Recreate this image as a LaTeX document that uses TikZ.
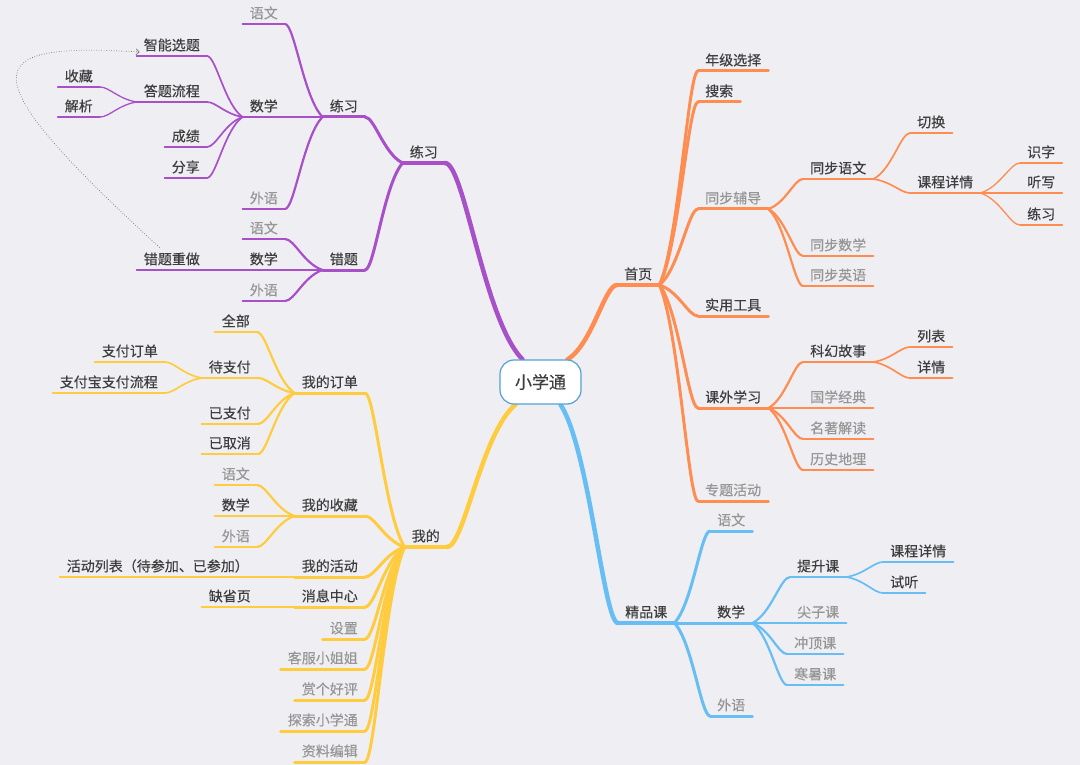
\documentclass[tikz,border=0pt]{standalone}
\usepackage{fontspec}
\newfontfamily\cjk[FakeBold=0.35]{Noto Sans CJK SC}
\usetikzlibrary{calc, arrows.meta}
\definecolor{bgc}{RGB}{239,239,243}
\definecolor{txt}{RGB}{62,62,62}
\definecolor{dimtxt}{RGB}{150,150,150}
\definecolor{pu}{RGB}{168,80,200}
\definecolor{og}{RGB}{255,140,80}
\definecolor{ye}{RGB}{255,204,64}
\definecolor{bl}{RGB}{102,190,245}
\definecolor{rootc}{RGB}{84,160,214}
\colorlet{brc}{pu}
\pgfdeclarelayer{back}
\pgfsetlayers{back,main}

\tikzset{
  lbl/.style={inner xsep=7pt, inner ysep=5.5pt, text height=11pt, text depth=0pt, font=\cjk\fontsize{14}{16}\selectfont, text=txt},
  dim/.style={text=dimtxt},
  ul/.style={append after command={(\tikzlastnode.south west) edge[draw=brc, line width=#1, line cap=round] (\tikzlastnode.south east)}},
  n1/.style={lbl, ul=4.5pt},
  n2/.style={lbl, ul=3pt},
  n3/.style={lbl, ul=2.2pt},
  n4/.style={lbl, ul=1.7pt},
  n5/.style={lbl, ul=1.3pt},
  w1/.style={draw=brc, line width=4.5pt, line cap=round},
  w2/.style={draw=brc, line width=3pt, line cap=round},
  w3/.style={draw=brc, line width=2.2pt, line cap=round},
  w4/.style={draw=brc, line width=1.7pt, line cap=round},
  w5/.style={draw=brc, line width=1.3pt, line cap=round},
  cv/.style={to path={let \p1=(\tikztostart), \p2=(\tikztotarget) in
    .. controls ({\x1+0.5*((\x2)-(\x1))},{\y1+0.2*((\y2)-(\y1))}) and ({\x2-0.25*((\x2)-(\x1))},\y2) .. (\tikztotarget)}},
  root/.style={draw=rootc, fill=white, line width=1.2pt, rounded corners=14pt, minimum width=81pt, minimum height=44pt, inner sep=0pt, font=\cjk\fontsize{17}{20}\selectfont, text=txt},
  jump/.style={draw=black!55, line width=0.7pt, dash pattern=on 0.7pt off 1.8pt, -{Straight Barb[length=3pt, width=6pt]}}
}

\begin{document}
\begin{tikzpicture}[x=1pt, y=-1pt]
  \useasboundingbox (0,0) rectangle (1080,765);
  \begin{pgfonlayer}{back}
    \fill[bgc] (0,0) rectangle (1080,765);
  \end{pgfonlayer}

  \node[root] (root) at (540.5,382) {小学通};

  % 练习
  \begin{scope}
    \colorlet{brc}{pu}
    \node[n1, anchor=south east] (lx1) at (445,163) {练习};
    \node[n2, anchor=south east] (lx2) at (365,117) {练习};
    \node[n2, anchor=south east] (ct) at (365,270) {错题};
    \node[n3, dim, anchor=south east] (yw1) at (285,24) {语文};
    \node[n3, anchor=south east] (sx1) at (285,117) {数学};
    \node[n3, dim, anchor=south east] (wy1) at (285,209) {外语};
    \node[n4, anchor=south east] (zn) at (207,56) {智能选题};
    \node[n4, anchor=south east] (dt) at (207,102) {答题流程};
    \node[n4, anchor=south east] (cj) at (207,147) {成绩};
    \node[n4, anchor=south east] (fx) at (207,178) {分享};
    \node[n5, anchor=south east] (sc) at (100,87) {收藏};
    \node[n5, anchor=south east] (jx) at (100,117) {解析};
    \node[n3, dim, anchor=south east] (yw2) at (285,239) {语文};
    \node[n3, anchor=south east] (sx2) at (285,270) {数学};
    \node[n3, dim, anchor=south east] (wy2) at (285,301) {外语};
    \node[n4, anchor=south east] (cz) at (207,270) {错题重做};

    \begin{pgfonlayer}{back}
      \draw[w1] ([xshift=-18pt]root.north) to[cv] (lx1.south east);
    \end{pgfonlayer}
    \draw[w2] (lx1.south west) to[cv] (lx2.south east);
    \draw[w2] (lx1.south west) to[cv] (ct.south east);
    \draw[w3] (lx2.south west) to[cv] (yw1.south east);
    \draw[w3] (lx2.south west) to[cv] (sx1.south east);
    \draw[w3] (lx2.south west) to[cv] (wy1.south east);
    \draw[w4] (sx1.south west) to[cv] (zn.south east);
    \draw[w4] (sx1.south west) to[cv] (dt.south east);
    \draw[w4] (sx1.south west) to[cv] (cj.south east);
    \draw[w4] (sx1.south west) to[cv] (fx.south east);
    \draw[w5] (dt.south west) to[cv] (sc.south east);
    \draw[w5] (dt.south west) to[cv] (jx.south east);
    \draw[w3] (ct.south west) to[cv] (yw2.south east);
    \draw[w3] (ct.south west) to[cv] (sx2.south east);
    \draw[w3] (ct.south west) to[cv] (wy2.south east);
    \draw[w4] (sx2.south west) to[cv] (cz.south east);

    \draw[jump] ([xshift=23pt]cz.north west) .. controls (-34,70) and (-22,42) .. ([shift={(3pt,4pt)}]zn.south west);
  \end{scope}

  % 我的
  \begin{scope}
    \colorlet{brc}{ye}
    \node[n1, anchor=south east] (wd) at (447,547) {我的};
    \node[n2, anchor=south east] (dd) at (365,393) {我的订单};
    \node[n2, anchor=south east] (wsc) at (365,516) {我的收藏};
    \node[n2, anchor=south east] (hd) at (365,577) {我的活动};
    \node[n2, anchor=south east] (xx) at (365,607) {消息中心};
    \node[n2, dim, anchor=south east] (sz) at (365,639) {设置};
    \node[n2, dim, anchor=south east] (kf) at (365,669) {客服小姐姐};
    \node[n2, dim, anchor=south east] (sh) at (365,700) {赏个好评};
    \node[n2, dim, anchor=south east] (tsu) at (365,731) {探索小学通};
    \node[n2, dim, anchor=south east] (zl) at (365,762) {资料编辑};
    \node[n3, anchor=south east] (qb) at (257,332) {全部};
    \node[n3, anchor=south east] (dz) at (258,378) {待支付};
    \node[n3, anchor=south east] (yz) at (258,424) {已支付};
    \node[n3, anchor=south east] (yq) at (258,454) {已取消};
    \node[n4, anchor=south east] (zd) at (165,362) {支付订单};
    \node[n4, anchor=south east] (zf) at (165,393) {支付宝支付流程};
    \node[n3, dim, anchor=south east] (yw3) at (257,485) {语文};
    \node[n3, anchor=south east] (sx3) at (257,516) {数学};
    \node[n3, dim, anchor=south east] (wy3) at (257,547) {外语};
    \node[n3, anchor=south east] (hl) at (256,577) {活动列表（待参加、已参加）};
    \node[n3, anchor=south east] (qs) at (258,607) {缺省页};

    \begin{pgfonlayer}{back}
      \draw[w1] ([xshift=-25pt]root.south) to[cv] (wd.south east);
    \end{pgfonlayer}
    \draw[w2] (wd.south west) to[cv] (dd.south east);
    \draw[w2] (wd.south west) to[cv] (wsc.south east);
    \draw[w2] (wd.south west) to[cv] (hd.south east);
    \draw[w2] (wd.south west) to[cv] (xx.south east);
    \draw[w2] (wd.south west) to[cv] (sz.south east);
    \draw[w2] (wd.south west) to[cv] (kf.south east);
    \draw[w2] (wd.south west) to[cv] (sh.south east);
    \draw[w2] (wd.south west) to[cv] (tsu.south east);
    \draw[w2] (wd.south west) to[cv] (zl.south east);
    \draw[w3] (dd.south west) to[cv] (qb.south east);
    \draw[w3] (dd.south west) to[cv] (dz.south east);
    \draw[w3] (dd.south west) to[cv] (yz.south east);
    \draw[w3] (dd.south west) to[cv] (yq.south east);
    \draw[w4] (dz.south west) to[cv] (zd.south east);
    \draw[w4] (dz.south west) to[cv] (zf.south east);
    \draw[w3] (wsc.south west) to[cv] (yw3.south east);
    \draw[w3] (wsc.south west) to[cv] (sx3.south east);
    \draw[w3] (wsc.south west) to[cv] (wy3.south east);
    \draw[w3] (hd.south west) to[cv] (hl.south east);
    \draw[w3] (xx.south west) to[cv] (qs.south east);
  \end{scope}

  % 首页
  \begin{scope}
    \colorlet{brc}{og}
    \node[n1, anchor=south west] (sy) at (617,285) {首页};
    \node[n2, anchor=south west] (nj) at (698,71) {年级选择};
    \node[n2, anchor=south west] (ss) at (698,102) {搜索};
    \node[n2, dim, anchor=south west] (tb) at (698,209) {同步辅导};
    \node[n2, anchor=south west] (sg) at (698,316) {实用工具};
    \node[n2, anchor=south west] (kw) at (698,408) {课外学习};
    \node[n2, dim, anchor=south west] (zt) at (698,501) {专题活动};
    \node[n3, anchor=south west] (tyw) at (803,179) {同步语文};
    \node[n3, dim, anchor=south west] (tsx) at (803,256) {同步数学};
    \node[n3, dim, anchor=south west] (tyy) at (803,286) {同步英语};
    \node[n4, anchor=south west] (qh) at (910,133) {切换};
    \node[n4, anchor=south west] (kc) at (910,193) {课程详情};
    \node[n5, anchor=south west] (szi) at (1020,163) {识字};
    \node[n5, anchor=south west] (tx) at (1020,193) {听写};
    \node[n5, anchor=south west] (lx3) at (1020,225) {练习};
    \node[n3, anchor=south west] (kh) at (803,362) {科幻故事};
    \node[n3, dim, anchor=south west] (gx) at (803,408) {国学经典};
    \node[n3, dim, anchor=south west] (mz) at (803,439) {名著解读};
    \node[n3, dim, anchor=south west] (ls) at (803,470) {历史地理};
    \node[n4, anchor=south west] (lb) at (910,347) {列表};
    \node[n4, anchor=south west] (xq) at (910,378) {详情};

    \begin{pgfonlayer}{back}
      \draw[w1] ([xshift=27pt]root.north) to[cv] (sy.south west);
    \end{pgfonlayer}
    \draw[w2] (sy.south east) to[cv] (nj.south west);
    \draw[w2] (sy.south east) to[cv] (ss.south west);
    \draw[w2] (sy.south east) to[cv] (tb.south west);
    \draw[w2] (sy.south east) to[cv] (sg.south west);
    \draw[w2] (sy.south east) to[cv] (kw.south west);
    \draw[w2] (sy.south east) to[cv] (zt.south west);
    \draw[w3] (tb.south east) to[cv] (tyw.south west);
    \draw[w3] (tb.south east) to[cv] (tsx.south west);
    \draw[w3] (tb.south east) to[cv] (tyy.south west);
    \draw[w4] (tyw.south east) to[cv] (qh.south west);
    \draw[w4] (tyw.south east) to[cv] (kc.south west);
    \draw[w5] (kc.south east) to[cv] (szi.south west);
    \draw[w5] (kc.south east) to[cv] (tx.south west);
    \draw[w5] (kc.south east) to[cv] (lx3.south west);
    \draw[w3] (kw.south east) to[cv] (kh.south west);
    \draw[w3] (kw.south east) to[cv] (gx.south west);
    \draw[w3] (kw.south east) to[cv] (mz.south west);
    \draw[w3] (kw.south east) to[cv] (ls.south west);
    \draw[w4] (kh.south east) to[cv] (lb.south west);
    \draw[w4] (kh.south east) to[cv] (xq.south west);
  \end{scope}

  % 精品课
  \begin{scope}
    \colorlet{brc}{bl}
    \node[n1, anchor=south west] (jp) at (618,623) {精品课};
    \node[n2, dim, anchor=south west] (yw4) at (710,531) {语文};
    \node[n2, anchor=south west] (sx4) at (710,623) {数学};
    \node[n2, dim, anchor=south west] (wy4) at (710,716) {外语};
    \node[n3, anchor=south west] (tsk) at (790,577) {提升课};
    \node[n3, dim, anchor=south west] (jz) at (790,623) {尖子课};
    \node[n3, dim, anchor=south west] (cd) at (787,654) {冲顶课};
    \node[n3, dim, anchor=south west] (hs) at (787,685) {寒暑课};
    \node[n4, anchor=south west] (kx) at (883,562) {课程详情};
    \node[n4, anchor=south west] (st) at (883,593) {试听};

    \begin{pgfonlayer}{back}
      \draw[w1] ([xshift=20pt]root.south) to[cv] (jp.south west);
    \end{pgfonlayer}
    \draw[w2] (jp.south east) to[cv] (yw4.south west);
    \draw[w2] (jp.south east) to[cv] (sx4.south west);
    \draw[w2] (jp.south east) to[cv] (wy4.south west);
    \draw[w3] (sx4.south east) to[cv] (tsk.south west);
    \draw[w3] (sx4.south east) to[cv] (jz.south west);
    \draw[w3] (sx4.south east) to[cv] (cd.south west);
    \draw[w3] (sx4.south east) to[cv] (hs.south west);
    \draw[w4] (tsk.south east) to[cv] (kx.south west);
    \draw[w4] (tsk.south east) to[cv] (st.south west);
  \end{scope}
\end{tikzpicture}
\end{document}
